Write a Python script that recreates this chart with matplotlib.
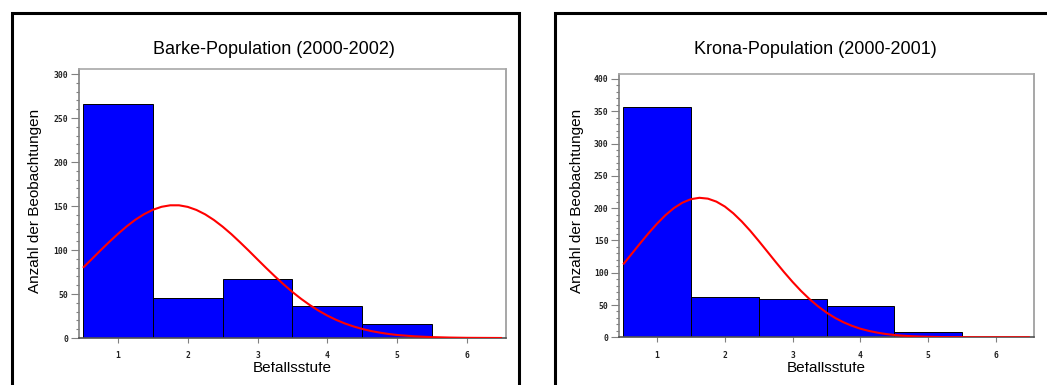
import matplotlib
matplotlib.use("Agg")
import matplotlib.pyplot as plt
from matplotlib.patches import Rectangle
from matplotlib.transforms import Bbox
import numpy as np

# ---------------- data ----------------
categories = [1, 2, 3, 4, 5, 6]
tick_labels = ["1", "2", "3", "4", "5", "6"]

barke_counts = [266, 46, 67, 36, 16, 0]
krona_counts = [357, 62, 60, 48, 8, 0]

curve_x = [0.5, 0.625, 0.75, 0.875, 1.0, 1.125, 1.25, 1.375, 1.5, 1.625, 1.75, 1.875,
           2.0, 2.125, 2.25, 2.375, 2.5, 2.625, 2.75, 2.875, 3.0, 3.125, 3.25, 3.375,
           3.5, 3.625, 3.75, 3.875, 4.0, 4.125, 4.25, 4.375, 4.5, 4.625, 4.75, 4.875,
           5.0, 5.25, 5.5, 5.75, 6.0, 6.25, 6.5]
barke_curve = [79.8, 89.6, 99.5, 109.1, 118.3, 126.8, 134.4, 140.7, 145.7, 149.1, 150.8, 150.8,
               149.0, 145.5, 140.5, 134.1, 126.5, 118.0, 108.7, 99.1, 89.2, 79.4, 69.9, 60.8,
               52.2, 44.4, 37.3, 31.0, 25.4, 20.6, 16.5, 13.1, 10.3, 7.9, 6.1, 4.6,
               3.4, 1.9, 1.0, 0.5, 0.2, 0.1, 0.0]
krona_curve = [112.8, 129.1, 145.4, 161.2, 176.0, 189.2, 200.2, 208.5, 213.9, 216.0, 214.7, 210.1,
               202.5, 192.0, 179.3, 164.9, 149.2, 133.0, 116.7, 100.8, 85.7, 71.7, 59.1, 48.0,
               38.3, 30.1, 23.3, 17.8, 13.3, 9.9, 7.2, 5.1, 3.6, 2.5, 1.7, 1.2,
               0.8, 0.3, 0.1, 0.0, 0.0, 0.0, 0.0]

barke_title = "Barke-Population (2000-2002)"
krona_title = "Krona-Population (2000-2001)"
x_label = "Befallsstufe"
y_label = "Anzahl der Beobachtungen"

barke_yticks = [0, 50, 100, 150, 200, 250, 300]
krona_yticks = [0, 50, 100, 150, 200, 250, 300, 350, 400]

# ---------------- layout ----------------
W, H = 1047, 385
fig = plt.figure(figsize=(W / 100, H / 100), dpi=100)
fig.patch.set_facecolor("white")

FONT = "Liberation Sans"


def px_ax(x0, x1, ytop, ybot):
    return [x0 / W, (H - ybot) / H, (x1 - x0) / W, (ybot - ytop) / H]


def frame(x0, x1, ytop):
    r = Rectangle((x0 / W, -0.05), (x1 - x0) / W, (H - ytop) / H + 0.05,
                  transform=fig.transFigure, fill=False, edgecolor="black",
                  linewidth=2.2, clip_on=False)
    fig.patches.append(r)


def panel(rect, counts, cx, cy, yticks, ymax, title, tcx, ycx):
    ax = fig.add_axes(rect)
    ax.bar(categories, counts, width=1.0, color="#0000ff", edgecolor="black",
           linewidth=0.7, zorder=2)
    ax.plot(cx, cy, color="#ff0000", linewidth=1.5, zorder=3, solid_capstyle="butt")
    ax.set_xlim(0.443, 6.557)
    ax.set_ylim(0, ymax)
    ax.set_xticks(categories)
    ax.set_xticklabels(tick_labels)
    ax.set_yticks(yticks)
    ax.set_yticks(np.arange(0, yticks[-1] + 1, 10), minor=True)
    ax.tick_params(axis="y", which="major", length=5.8, width=0.8, color="#808080",
                   pad=2, labelsize=5.8, labelcolor="#222222")
    ax.tick_params(axis="y", which="minor", length=2.2, width=0.8, color="#808080")
    ax.tick_params(axis="x", which="major", length=3.6, width=0.8, color="#808080",
                   pad=6, labelsize=5.8, labelcolor="#222222")
    for lab in ax.get_xticklabels() + ax.get_yticklabels():
        lab.set_fontweight("bold")
        lab.set_family("DejaVu Sans Mono")
    ax.spines["left"].set_color("#808080")
    ax.spines["bottom"].set_color("#505050")
    ax.spines["top"].set_color("#a8a8a8")
    ax.spines["right"].set_color("#989898")
    for s in ax.spines.values():
        s.set_linewidth(1.2)
    # title
    fig.text(tcx / W, (H - 49) / H, title, ha="center", va="center",
             fontsize=13, family=FONT, color="black")
    # y label
    fig.text(ycx / W, (H - 201) / H, y_label, ha="center", va="center",
             rotation=90, fontsize=11, family=FONT, color="black")
    # x label (top partly hidden as in original)
    xcx = (rect[0] + rect[2] / 2) * W
    t = fig.text(xcx / W, (H - 371.5) / H, x_label, ha="center", va="baseline",
                 fontsize=11, family=FONT, color="black")
    t.set_clip_box(Bbox([[0, 0], [W, H - 361.5]]))
    t.set_clip_on(True)
    return ax


frame(12, 518.5, 13)
frame(554.5, 1060, 13)

panel(px_ax(79, 506, 69, 338), barke_counts, curve_x, barke_curve,
      barke_yticks, 305.7, barke_title, 273.7, 35)
panel(px_ax(619.3, 1033.7, 74, 337.3), krona_counts, curve_x, krona_curve,
      krona_yticks, 407.7, krona_title, 815, 577)

fig.savefig("out.png", dpi=100, facecolor="white")
